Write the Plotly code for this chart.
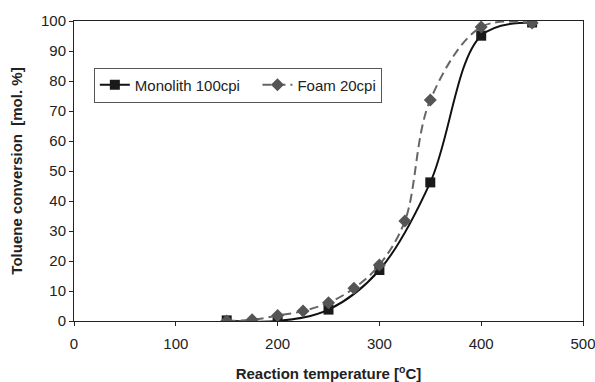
import plotly.graph_objects as go

mono_x = [150, 200, 250, 300, 350, 400, 450]
mono_y = [0.2, 0.0, 3.8, 17.0, 46.2, 95.1, 99.5]

foam_x = [150, 175, 200, 225, 250, 275, 300, 325, 350, 400, 450]
foam_y = [0.0, 0.4, 1.8, 3.3, 6.1, 10.9, 18.7, 33.3, 73.7, 98.0, 99.3]

x_ticks = [0, 100, 200, 300, 400, 500]
y_ticks = [0, 10, 20, 30, 40, 50, 60, 70, 80, 90, 100]

font = "Liberation Sans, Arial, sans-serif"

fig = go.Figure()
fig.add_trace(go.Scatter(
    x=mono_x, y=mono_y, name="Monolith 100cpi   ", mode="lines+markers",
    line=dict(color="#111111", width=2, shape="spline", smoothing=1.0),
    marker=dict(symbol="square", size=10, color="#1a1a1a"),
))
fig.add_trace(go.Scatter(
    x=foam_x, y=foam_y, name="Foam 20cpi", mode="lines+markers",
    line=dict(color="#666666", width=2, shape="spline", smoothing=1.0, dash="9px,5px"),
    marker=dict(symbol="diamond", size=10, color="#555555"),
))

fig.update_layout(
    width=595, height=382,
    margin=dict(l=74, r=12, t=21, b=61, autoexpand=False),
    paper_bgcolor="white", plot_bgcolor="white",
    font=dict(family=font, size=15, color="#222222"),
    showlegend=True,
    legend=dict(
        orientation="h", x=0.039, y=0.845, xanchor="left", yanchor="top",
        bgcolor="white", bordercolor="#555555", borderwidth=1,
        font=dict(family=font, size=15, color="#222222"),
        itemwidth=30, tracegroupgap=0,
    ),
    xaxis=dict(
        range=[0, 500], tickvals=x_ticks, ticktext=[str(v) for v in x_ticks],
        showgrid=False, zeroline=False, automargin=False,
        showline=True, linecolor="#222222", linewidth=1, mirror=True,
        ticks="outside", ticklen=4, tickcolor="#222222",
        ticklabeloverflow="allow", ticklabelstandoff=5,
        title=dict(text="<b>Reaction temperature [<sup>o</sup>C]</b>",
                   font=dict(family=font, size=15, color="#222222"), standoff=20),
    ),
    yaxis=dict(
        range=[0, 100], tickvals=y_ticks, ticktext=[str(v) for v in y_ticks],
        showgrid=False, zeroline=False, automargin=False,
        showline=True, linecolor="#222222", linewidth=1, mirror=True,
        ticks="outside", ticklen=4, tickcolor="#222222",
        ticklabeloverflow="allow",
        title=dict(text="<b>Toluene conversion  [mol. %]</b>",
                   font=dict(family=font, size=15, color="#222222"), standoff=14),
    ),
)

fig.write_html("out.html", config={"displayModeBar": False},
               post_script="document.body.style.margin='0';document.body.style.padding='0';")
